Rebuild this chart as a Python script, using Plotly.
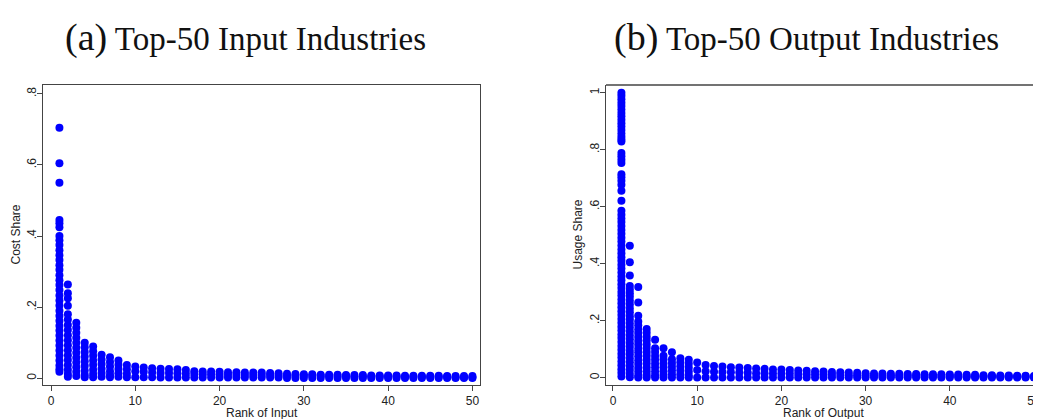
import plotly.graph_objects as go

# ---------------- Panel (a): Cost share by rank of input ----------------
input_rank1 = [0.705, 0.605, 0.550, 0.445, 0.436, 0.425, 0.400, 0.388, 0.375, 0.360,
               0.346, 0.333, 0.318, 0.305, 0.290, 0.276, 0.262, 0.248, 0.233, 0.219,
               0.205, 0.190, 0.176, 0.162, 0.148, 0.134, 0.120, 0.106, 0.092, 0.078,
               0.064, 0.050, 0.036, 0.025, 0.018]
input_rank2 = [0.264, 0.239, 0.225, 0.204, 0.180, 0.165, 0.150, 0.136, 0.121, 0.107,
               0.093, 0.079, 0.065, 0.051, 0.037, 0.024, 0.012, 0.004]
input_rank3 = [0.156, 0.142, 0.128, 0.114, 0.100, 0.086, 0.072, 0.058, 0.044, 0.031,
               0.018, 0.006]
input_rank4 = [0.100, 0.087, 0.074, 0.061, 0.048, 0.035, 0.022, 0.010, 0.003]
input_rank5 = [0.089, 0.076, 0.063, 0.050, 0.037, 0.024, 0.012, 0.003]
input_rank6 = [0.066, 0.053, 0.040, 0.027, 0.015, 0.004]
input_rank7 = [0.059, 0.046, 0.033, 0.020, 0.009, 0.003]
input_rank8 = [0.050, 0.038, 0.026, 0.014, 0.004]
input_rank9 = [0.037, 0.025, 0.013, 0.003]

tail_ranks = list(range(10, 51))
input_tail_high = [0.033, 0.030, 0.028, 0.027, 0.026, 0.025, 0.023, 0.020, 0.019, 0.019,
                   0.018, 0.017, 0.017, 0.016, 0.016, 0.016, 0.015, 0.014, 0.013, 0.012,
                   0.011, 0.011, 0.010, 0.010, 0.010, 0.009, 0.009, 0.009, 0.008, 0.008,
                   0.008, 0.008, 0.007, 0.007, 0.007, 0.007, 0.007, 0.006, 0.006, 0.006,
                   0.006]
input_tail_mid = [0.020, 0.018, 0.016, 0.015, 0.015, 0.014, 0.013, 0.012, 0.011, 0.011,
                  0.010, 0.010, 0.010, 0.009, 0.009, 0.009, 0.009, 0.008, 0.008, 0.007,
                  0.007, 0.007, 0.006, 0.006, 0.006, 0.006, 0.005, 0.005, 0.005, 0.005,
                  0.005, 0.005, 0.004, 0.004, 0.004, 0.004, 0.004, 0.004, 0.003, 0.003,
                  0.003]
input_tail_low = [0.003, 0.003, 0.003, 0.002, 0.002, 0.002, 0.002, 0.002, 0.002, 0.002,
                  0.002, 0.002, 0.002, 0.002, 0.002, 0.002, 0.002, 0.002, 0.001, 0.001,
                  0.001, 0.001, 0.001, 0.001, 0.001, 0.001, 0.001, 0.001, 0.001, 0.001,
                  0.001, 0.001, 0.001, 0.001, 0.001, 0.001, 0.001, 0.001, 0.001, 0.001,
                  0.001]

# ---------------- Panel (b): Usage share by rank of output ----------------
output_rank1 = [1.000, 0.989, 0.977, 0.965, 0.953, 0.941, 0.929, 0.917, 0.905, 0.893,
                0.881, 0.869, 0.857, 0.845, 0.836, 0.829,
                0.788, 0.777, 0.765, 0.753,
                0.714, 0.703, 0.691, 0.677, 0.656, 0.621,
                0.586, 0.572, 0.559, 0.546, 0.532, 0.518, 0.505, 0.491, 0.478, 0.464,
                0.450, 0.437, 0.423, 0.410, 0.396, 0.383, 0.369, 0.355, 0.342, 0.328,
                0.315, 0.301, 0.288, 0.274, 0.261, 0.247, 0.233, 0.220, 0.206, 0.193,
                0.179, 0.166, 0.152, 0.139, 0.125, 0.111, 0.098, 0.084, 0.071, 0.057,
                0.044, 0.030, 0.017, 0.004]
output_rank2 = [0.463, 0.405, 0.359, 0.322, 0.309, 0.296, 0.284, 0.270, 0.257, 0.243,
                0.230, 0.216, 0.203, 0.189, 0.176, 0.162, 0.148, 0.135, 0.121, 0.108,
                0.094, 0.081, 0.067, 0.054, 0.040, 0.027, 0.013, 0.002]
output_rank3 = [0.318, 0.264, 0.217, 0.197, 0.184, 0.170, 0.157, 0.143, 0.129, 0.116,
                0.102, 0.089, 0.075, 0.061, 0.048, 0.034, 0.021, 0.008, 0.001]
output_rank4 = [0.171, 0.158, 0.144, 0.131, 0.117, 0.104, 0.090, 0.077, 0.063, 0.050,
                0.036, 0.023, 0.010, 0.001]
output_rank5 = [0.133, 0.103, 0.090, 0.076, 0.063, 0.049, 0.036, 0.022, 0.009, 0.001]
output_rank6 = [0.103, 0.077, 0.064, 0.050, 0.037, 0.023, 0.010, 0.001]
output_rank7 = [0.089, 0.065, 0.052, 0.038, 0.025, 0.012, 0.001]
output_rank8 = [0.068, 0.054, 0.040, 0.026, 0.012, 0.001]
output_rank9 = [0.063, 0.049, 0.035, 0.021, 0.008, 0.001]

output_tail_high = [0.053, 0.045, 0.041, 0.039, 0.037, 0.036, 0.034, 0.032, 0.031, 0.029,
                    0.029, 0.027, 0.025, 0.024, 0.023, 0.022, 0.020, 0.019, 0.018, 0.017,
                    0.016, 0.015, 0.015, 0.014, 0.014, 0.013, 0.013, 0.012, 0.012, 0.012,
                    0.011, 0.011, 0.010, 0.010, 0.009, 0.009, 0.008, 0.008, 0.007, 0.007,
                    0.006]
output_tail_mid = [0.027, 0.023, 0.021, 0.020, 0.019, 0.018, 0.017, 0.016, 0.016, 0.015,
                   0.015, 0.014, 0.013, 0.012, 0.012, 0.011, 0.010, 0.010, 0.009, 0.009,
                   0.008, 0.008, 0.008, 0.007, 0.007, 0.007, 0.007, 0.006, 0.006, 0.006,
                   0.006, 0.006, 0.005, 0.005, 0.005, 0.005, 0.004, 0.004, 0.004, 0.004,
                   0.003]
output_tail_low = [0.001, 0.001, 0.001, 0.001, 0.001, 0.001, 0.001, 0.001, 0.001, 0.001,
                   0.001, 0.001, 0.001, 0.001, 0.001, 0.001, 0.001, 0.001, 0.001, 0.001,
                   0.001, 0.001, 0.001, 0.001, 0.001, 0.001, 0.001, 0.001, 0.001, 0.001,
                   0.001, 0.001, 0.001, 0.001, 0.001, 0.001, 0.001, 0.001, 0.001, 0.001,
                   0.001]

x_tickvals = [0, 10, 20, 30, 40, 50]
input_ytickvals = [0, 0.2, 0.4, 0.6, 0.8]
input_yticktext = ["0", ".2", ".4", ".6", ".8"]
output_ytickvals = [0, 0.2, 0.4, 0.6, 0.8, 1.0]
output_yticktext = ["0", ".2", ".4", ".6", ".8", "1"]


def flatten(head_columns, tail_series):
    xs, ys = [], []
    for rank, col in enumerate(head_columns, start=1):
        xs.extend([rank] * len(col))
        ys.extend(col)
    for series in tail_series:
        xs.extend(tail_ranks)
        ys.extend(series)
    return xs, ys


ax, ay = flatten([input_rank1, input_rank2, input_rank3, input_rank4, input_rank5,
                  input_rank6, input_rank7, input_rank8, input_rank9],
                 [input_tail_high, input_tail_mid, input_tail_low])
bx, by = flatten([output_rank1, output_rank2, output_rank3, output_rank4, output_rank5,
                  output_rank6, output_rank7, output_rank8, output_rank9],
                 [output_tail_high, output_tail_mid, output_tail_low])

BLUE = "#0000FF"
marker = dict(color=BLUE, size=8, line=dict(width=0))

fig = go.Figure()
fig.add_trace(go.Scatter(x=ax, y=ay, mode="markers", marker=marker,
                         xaxis="x", yaxis="y", showlegend=False))
fig.add_trace(go.Scatter(x=bx, y=by, mode="markers", marker=marker,
                         xaxis="x2", yaxis="y2", showlegend=False))

# The page body has an 8px margin, so the figure is sized to fit inside the window
OFF = 8
W, H = 1041 - OFF, 419 - OFF


def px_x(p):
    return (p - OFF) / W


def px_y(p):
    return 1 - (p - OFF) / H


tick_font = dict(family="Liberation Sans, Arial, sans-serif", size=12, color="#222")
axis_common = dict(showgrid=False, zeroline=False, showline=True, linecolor="#444",
                   linewidth=1.3, ticks="outside", ticklen=5, tickwidth=1.2,
                   tickcolor="#444", tickfont=tick_font)

fig.update_layout(
    width=W, height=H, margin=dict(l=0, r=0, t=0, b=0),
    paper_bgcolor="white", plot_bgcolor="white",
    xaxis=dict(domain=[px_x(43), px_x(480)], range=[-0.95, 50.9], anchor="y",
               tickvals=x_tickvals, ticklabelstandoff=-1, mirror=True, **axis_common),
    yaxis=dict(domain=[px_y(385), px_y(85)], range=[-0.019, 0.825], anchor="x",
               tickvals=input_ytickvals, ticktext=input_yticktext, tickangle=-90,
               ticklabelstandoff=-4, mirror=True, **axis_common),
    xaxis2=dict(domain=[px_x(606), 1.0], range=[-0.83, 50.83], anchor="y2",
                tickvals=x_tickvals, ticklabelstandoff=-1, ticklabeloverflow="allow",
                **axis_common),
    yaxis2=dict(domain=[px_y(385), px_y(85)], range=[-0.0256, 1.027], anchor="x2",
                tickvals=output_ytickvals, ticktext=output_yticktext, tickangle=-90,
                ticklabelstandoff=-4, **axis_common),
    shapes=[
        dict(type="line", xref="x2 domain", yref="y2 domain", x0=0, x1=1, y0=1, y1=1,
             line=dict(color="#444", width=1.3)),
    ],
)

title_font = dict(family="Liberation Serif, Times New Roman, serif", size=33, color="#111")
label_font = dict(family="Liberation Sans, Arial, sans-serif", size=12, color="#222")
fig.add_annotation(text="<span style='font-size:38px'>(a)</span> Top-50 Input Industries",
                   x=px_x(245), y=px_y(37), xref="paper", yref="paper",
                   showarrow=False, font=title_font, xanchor="center", yanchor="middle")
fig.add_annotation(text="<span style='font-size:38px'>(b)</span> Top-50 Output Industries",
                   x=px_x(806), y=px_y(37), xref="paper", yref="paper",
                   showarrow=False, font=title_font, xanchor="center", yanchor="middle")
fig.add_annotation(text="Cost Share", x=px_x(15.5), y=px_y(235), xref="paper", yref="paper",
                   showarrow=False, font=label_font, textangle=-90,
                   xanchor="center", yanchor="middle")
fig.add_annotation(text="Usage Share", x=px_x(577.5), y=px_y(235), xref="paper", yref="paper",
                   showarrow=False, font=label_font, textangle=-90,
                   xanchor="center", yanchor="middle")
fig.add_annotation(text="Rank of Input", x=px_x(262), y=px_y(412.5), xref="paper", yref="paper",
                   showarrow=False, font=label_font, xanchor="center", yanchor="middle")
fig.add_annotation(text="Rank of Output", x=px_x(823), y=px_y(412.5), xref="paper", yref="paper",
                   showarrow=False, font=label_font, xanchor="center", yanchor="middle")

fig.write_html("out.html")
